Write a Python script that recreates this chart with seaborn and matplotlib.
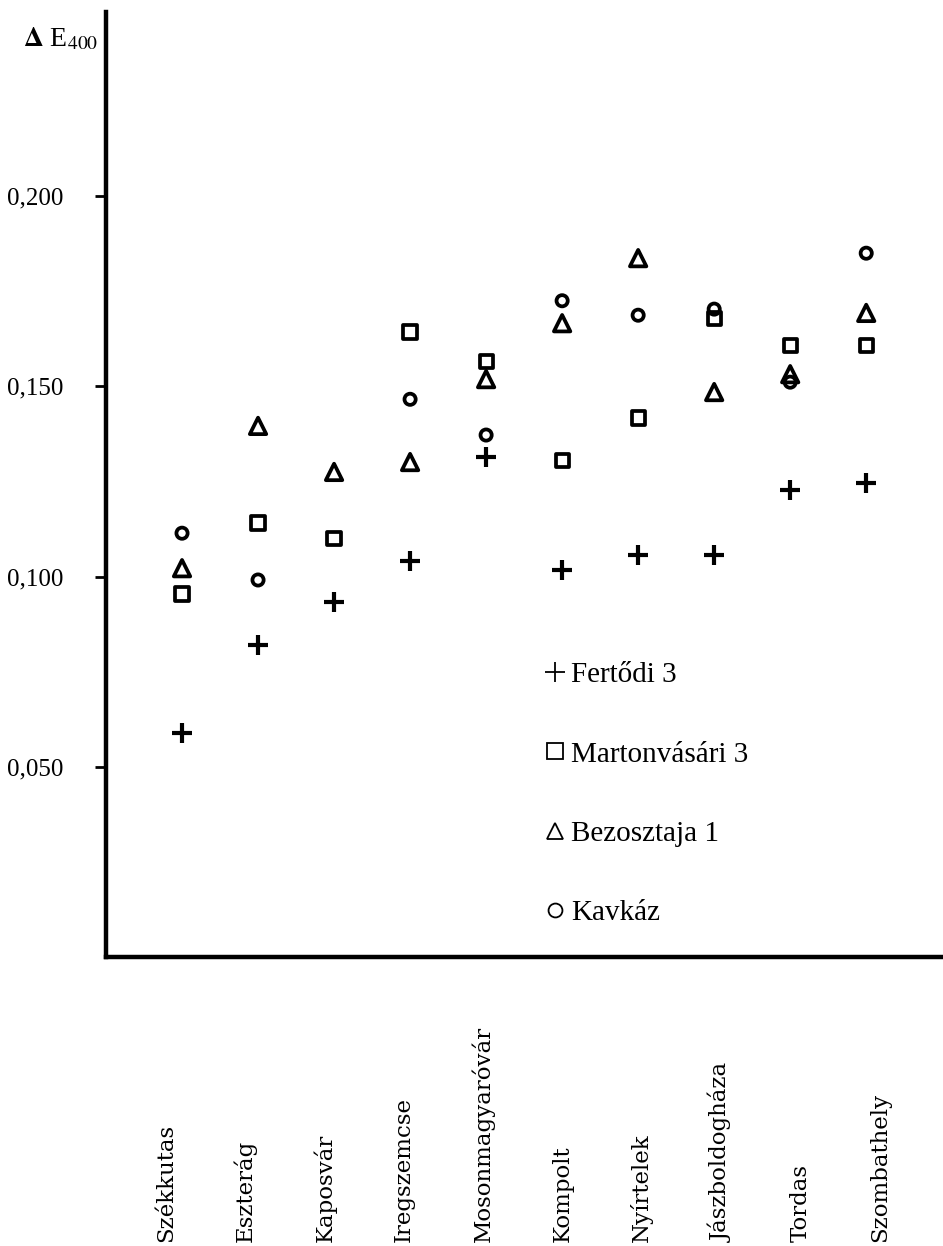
import matplotlib
matplotlib.use("Agg")
import matplotlib.pyplot as plt
import matplotlib.transforms as mtransforms
from matplotlib.lines import Line2D
import seaborn as sns
import pandas as pd
import numpy as np

# ---- data ----
locations = ["Székkutas", "Eszterág", "Kaposvár", "Iregszemcse", "Mosonmagyaróvár",
             "Kompolt", "Nyírtelek", "Jászboldogháza", "Tordas", "Szombathely"]
fertodi_3 = [0.0589, 0.0820, 0.0934, 0.1041, 0.1314, 0.1017, 0.1056, 0.1056, 0.1227, 0.1246]
martonvasari_3 = [0.0954, 0.1141, 0.1101, 0.1643, 0.1565, 0.1306, 0.1417, 0.1679, 0.1608, 0.1608]
bezosztaja_1 = [0.1022, 0.1396, 0.1275, 0.1301, 0.1519, 0.1666, 0.1837, 0.1485, 0.1532, 0.1693]
kavkaz = [0.1114, 0.0991, np.nan, 0.1466, 0.1372, 0.1725, 0.1687, 0.1703, 0.1511, 0.1850]
series_names = ["Fertődi 3", "Martonvásári 3", "Bezosztaja 1", "Kavkáz"]
y_ticks = [0.05, 0.10, 0.15, 0.20]
y_tick_labels = ["0,050", "0,100", "0,150", "0,200"]
y_label = r"$\mathbf{\Delta}$ E$_{400}$"

sns.set_style("ticks")
plt.rcParams["font.family"] = ["Liberation Serif", "DejaVu Serif"]
plt.rcParams["mathtext.fontset"] = "stix"

W, H = 943, 1246
fig = plt.figure(figsize=(W / 100, H / 100), dpi=100)
ax = fig.add_axes([106 / W, 1 - 957 / H, (W - 106) / W, (957 - 12) / H])

df = pd.DataFrame({
    "pos": np.arange(len(locations)),
    "location": locations,
    "fertodi": fertodi_3,
    "martonvasari": martonvasari_3,
    "bezosztaja": bezosztaja_1,
    "kavkaz": kavkaz,
})

edge = 2.7
sns.scatterplot(data=df, x="pos", y="fertodi", marker="+", s=220, color="black",
                linewidth=3.0, ax=ax, legend=False)
sns.scatterplot(data=df, x="pos", y="martonvasari", marker="s", s=90, facecolor="none",
                edgecolor="black", linewidth=edge, ax=ax, legend=False)
sns.scatterplot(data=df, x="pos", y="bezosztaja", marker="^", s=140, facecolor="none",
                edgecolor="black", linewidth=edge, ax=ax, legend=False)
sns.scatterplot(data=df, x="pos", y="kavkaz", marker="o", s=65, facecolor="none",
                edgecolor="black", linewidth=edge, ax=ax, legend=False)

ax.set_xlim(-1.0, 10.01)
ax.set_ylim(0, 0.2484)
ax.set_xticks([])
ax.set_yticks(y_ticks)
ax.set_yticklabels(y_tick_labels)
ax.tick_params(axis="y", direction="out", length=8, width=2, pad=23, labelsize=18,
               colors="black")
ax.set_xlabel("")
ax.set_ylabel("")
sns.despine(ax=ax)
for side in ["left", "bottom"]:
    ax.spines[side].set_linewidth(3.2)
    ax.spines[side].set_color("black")

# category labels, rotated, below the axis
trans = mtransforms.blended_transform_factory(ax.transData, ax.transAxes)
for i, name in enumerate(locations):
    ax.text(-0.21 + i * 1.043, -0.3016, name, transform=trans, rotation=90,
            ha="center", va="bottom", fontsize=16.5, family=["DejaVu Serif"],
            color="black")

# y label at top left
fig.text(23 / W, 1 - 46 / H, y_label, fontsize=20, ha="left", va="baseline",
         color="black")

# legend inside plot
markers = ["+", "s", "^", "o"]
msizes = [14, 11, 11, 10]
handles = [Line2D([], [], marker=m, ms=ms, mew=1.3, mfc="none", mec="black",
                  color="black", linestyle="none") for m, ms in zip(markers, msizes)]
ax.legend(handles, series_names, loc="upper left",
          bbox_to_anchor=(543 / W, 1 - 662 / H), bbox_transform=fig.transFigure,
          frameon=False, prop={"family": "Liberation Serif", "size": 21},
          handlelength=0.8, handletextpad=0.15, labelspacing=1.81,
          borderpad=0, borderaxespad=0, labelcolor="black")

fig.savefig("out.png", dpi=100, facecolor="white")
